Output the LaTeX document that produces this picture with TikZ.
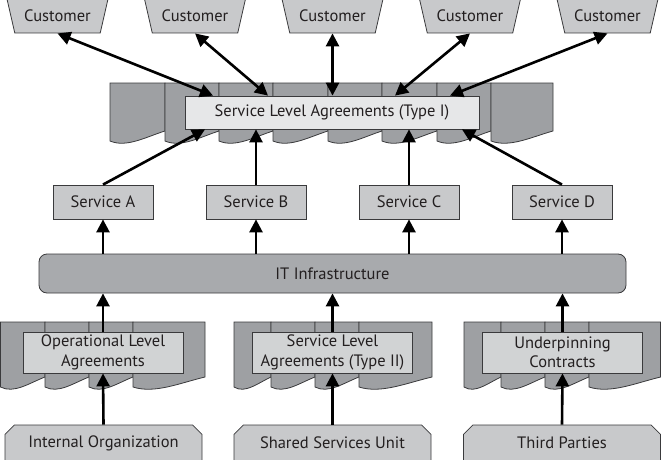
\documentclass[tikz,border=0pt]{standalone}
\usepackage{fontspec}
\setmainfont{PT Sans}
\usetikzlibrary{arrows.meta,shapes.geometric,shapes.misc}

\definecolor{edge}{HTML}{3A3A3C}
\definecolor{ink}{HTML}{231F20}
\definecolor{boxgray}{HTML}{C8C9CB}
\definecolor{bandgray}{HTML}{9EA0A3}
\definecolor{itgray}{HTML}{A8AAAD}
\definecolor{palegray}{HTML}{E6E7E8}
\definecolor{innergray}{HTML}{D1D3D4}

% one row of stacked pages: top, lowest bottom, list of left/right edges
\newcommand{\pagerow}[3]{%
  \foreach \xa/\xb in {#3}
    \draw[page] (\xa,#1) -- (\xb,#1) -- (\xb,#2-12)
      .. controls ({\xa+0.65*(\xb-\xa)},#2-6) and ({\xa+0.3*(\xb-\xa)},#2+5) .. (\xa,#2-2) -- cycle;}

\begin{document}
\begin{tikzpicture}[x=1pt,y=-1pt,
  font=\fontsize{16.5}{19.5}\selectfont,
  box/.style={draw=edge,line width=0.8pt,fill=boxgray,text=ink,inner sep=2pt,minimum height=34pt},
  cust/.style={box,trapezium,shape border rotate=180,trapezium left angle=64,trapezium right angle=64,
    trapezium stretches body,minimum width=101pt},
  svc/.style={box,minimum width=100pt},
  src/.style={box,chamfered rectangle,chamfered rectangle corners={north west,north east},
    chamfered rectangle xsep=6pt,minimum width=197pt,minimum height=36pt},
  inbox/.style={draw=edge,line width=0.8pt,fill=innergray,text=ink,align=center,
    minimum width=160pt,minimum height=41pt,inner sep=1pt},
  page/.style={draw=edge,line width=0.8pt,fill=bandgray},
  arr/.style={line width=2.6pt,-{Triangle[length=13pt,width=13pt]}},
  darr/.style={line width=2.6pt,{Triangle[length=13pt,width=13pt]}-{Triangle[length=13pt,width=13pt]}}]
  \useasboundingbox (0,0) rectangle (661,460);

  % customers
  \node[cust] (c1) at (57.5,16) {Customer};
  \node[cust] (c2) at (195,16) {Customer};
  \node[cust] (c3) at (332.5,16) {Customer};
  \node[cust] (c4) at (470,16) {Customer};
  \node[cust] (c5) at (607.5,16) {Customer};

  % agreement stacks
  \pagerow{83}{143}{110/165,165/219,219/273,273/328,328/382,382/437,437/491,491/553}
  \pagerow{322}{389}{0.5/45,45/89,89/133,133/205}
  \pagerow{322}{389}{234/271,271/315,315/359,359/432}
  \pagerow{322}{389}{464/501,501/545,545/589,589/660.6}

  \node[inbox,fill=palegray,minimum width=294pt,minimum height=33pt] (sla1) at (332,112.5)
    {Service Level Agreements (Type I)};
  \node[inbox] (ola) at (103,352.5) {Operational Level\\Agreements};
  \node[inbox] (sla2) at (332.5,352.5) {Service Level\\Agreements (Type II)};
  \node[inbox] (uc) at (562.5,352.5) {Underpinning\\Contracts};

  % services and infrastructure
  \node[svc] (svcA) at (103,202) {Service A};
  \node[svc] (svcB) at (256,202) {Service B};
  \node[svc] (svcC) at (409,202) {Service C};
  \node[svc] (svcD) at (562,202) {Service D};
  \node[box,fill=itgray,rounded corners=8pt,minimum width=587pt,minimum height=39pt] (it)
    at (332.5,273.5) {IT Infrastructure};

  % suppliers
  \node[src] (intorg) at (103.5,443) {Internal Organization};
  \node[src] (ssu) at (332.5,443) {Shared Services Unit};
  \node[src] (third) at (562,443) {Third Parties};

  % customer links
  \draw[darr] (c1.-90) -- ([xshift=-119pt]sla1.north);
  \draw[darr] (c2.-90) -- ([xshift=-64pt]sla1.north);
  \draw[darr] (c3.-90) -- (c3.-90 |- sla1.north);
  \draw[darr] (c4.-90) -- ([xshift=63pt]sla1.north);
  \draw[darr] (c5.-90) -- ([xshift=118pt]sla1.north);

  % services up to the SLA
  \draw[arr] (svcA.north) -- ([xshift=-127pt]sla1.south);
  \draw[arr] (svcB.north) -- (svcB.north |- sla1.south);
  \draw[arr] (svcC.north) -- (svcC.north |- sla1.south);
  \draw[arr] (svcD.north) -- ([xshift=130pt]sla1.south);

  % infrastructure up to services
  \foreach \s in {svcA,svcB,svcC,svcD}
    \draw[arr] (\s.south |- it.north) -- (\s.south);

  % supporting agreements
  \foreach \a in {ola,sla2,uc}
    \draw[arr] (\a.north) -- (\a.north |- it.south);
  \draw[arr] (intorg.north) -- (ola.south);
  \draw[arr] (ssu.north) -- (sla2.south);
  \draw[arr] (third.north) -- (uc.south);
\end{tikzpicture}
\end{document}
